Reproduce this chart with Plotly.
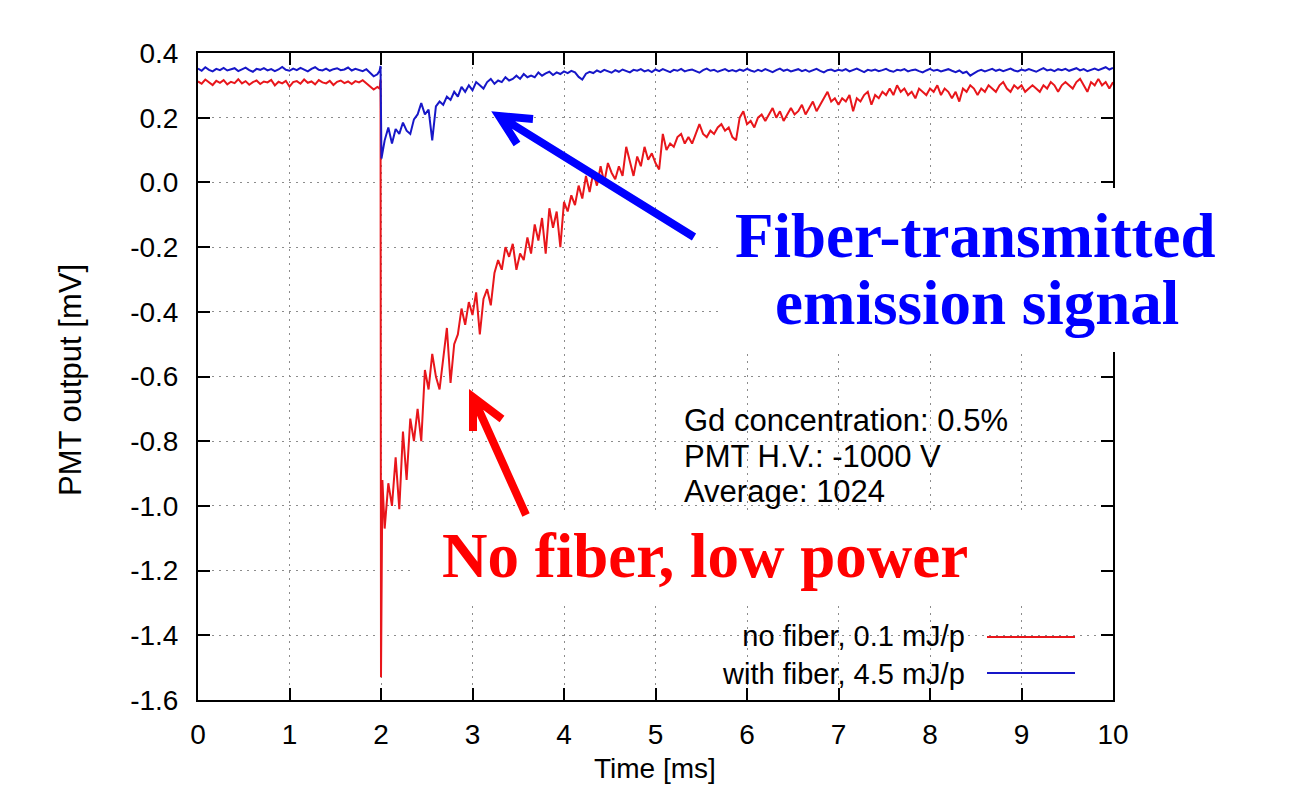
import plotly.graph_objects as go

# ---------------- data ----------------
x_tick_vals = [0, 1, 2, 3, 4, 5, 6, 7, 8, 9, 10]
x_tick_text = ["0", "1", "2", "3", "4", "5", "6", "7", "8", "9", "10"]
y_tick_vals = [0.4, 0.2, 0.0, -0.2, -0.4, -0.6, -0.8, -1.0, -1.2, -1.4, -1.6]
y_tick_text = ["0.4", "0.2", "0.0", "-0.2", "-0.4", "-0.6", "-0.8", "-1.0", "-1.2", "-1.4", "-1.6"]

series_names = ["no fiber, 0.1 mJ/p", "with fiber, 4.5 mJ/p"]

STEP = 0.04  # sampling interval of the time grid [ms]

# no fiber, 0.1 mJ/p  (before the laser pulse, t = 0 ... 1.96 ms)
red_base = [0.312, 0.305, 0.318, 0.309, 0.301, 0.314, 0.308, 0.316, 0.303, 0.311,
            0.307, 0.319, 0.306, 0.313, 0.302, 0.310, 0.315, 0.304, 0.312, 0.309,
            0.317, 0.300, 0.311, 0.306, 0.314, 0.296, 0.310, 0.313, 0.305, 0.318,
            0.308, 0.312, 0.303, 0.316, 0.309, 0.306, 0.314, 0.301, 0.311, 0.315,
            0.307, 0.312, 0.304, 0.313, 0.309, 0.316, 0.306, 0.298, 0.287, 0.295]
red_spike_t = [1.985, 1.995, 2.0, 2.015]
red_spike = [0.290, 0.318, -1.53, -0.92]
# t = 2.04 ... 10.00 ms
red_decay = [-1.07, -0.93, -1.00, -0.85, -1.01, -0.77, -0.92, -0.73, -0.80, -0.70,
             -0.80, -0.58, -0.64, -0.53, -0.60, -0.64, -0.55, -0.45, -0.62, -0.50,
             -0.47, -0.39, -0.44, -0.37, -0.41, -0.34, -0.47, -0.36, -0.33, -0.38,
             -0.28, -0.24, -0.27, -0.20, -0.23, -0.19, -0.27, -0.22, -0.24, -0.17,
             -0.22, -0.13, -0.18, -0.11, -0.22, -0.08, -0.14, -0.09, -0.20, -0.06,
             -0.09, -0.04, -0.07, -0.01, -0.05, 0.02, -0.03, 0.03, -0.01, 0.05,
             0.00, 0.06, 0.03, 0.01, 0.05, 0.02, 0.11, 0.06, 0.02, 0.08,
             0.05, 0.11, 0.07, 0.09, 0.06, 0.04, 0.15, 0.10, 0.12, 0.11,
             0.14, 0.15, 0.12, 0.14, 0.12, 0.15, 0.18, 0.15, 0.14, 0.16,
             0.15, 0.17, 0.18, 0.16, 0.17, 0.14, 0.13, 0.20, 0.22, 0.18,
             0.19, 0.17, 0.20, 0.21, 0.19, 0.21, 0.23, 0.20, 0.22, 0.19,
             0.21, 0.23, 0.21, 0.22, 0.24, 0.21, 0.23, 0.25, 0.22, 0.24,
             0.26, 0.28, 0.25, 0.26, 0.24, 0.26, 0.25, 0.27, 0.22, 0.26,
             0.25, 0.27, 0.28, 0.24, 0.27, 0.26, 0.28, 0.27, 0.29, 0.27,
             0.30, 0.28, 0.29, 0.27, 0.28, 0.26, 0.29, 0.28, 0.27, 0.29,
             0.28, 0.30, 0.27, 0.29, 0.28, 0.26, 0.28, 0.25, 0.29, 0.28,
             0.30, 0.29, 0.27, 0.29, 0.28, 0.30, 0.29, 0.28, 0.30, 0.31,
             0.29, 0.28, 0.30, 0.29, 0.30, 0.28, 0.29, 0.30, 0.29, 0.28,
             0.30, 0.29, 0.31, 0.30, 0.28, 0.30, 0.31, 0.30, 0.29, 0.31,
             0.32, 0.30, 0.28, 0.31, 0.30, 0.32, 0.30, 0.31, 0.29, 0.31]

# with fiber, 4.5 mJ/p
blue_base = [0.352, 0.345, 0.356, 0.348, 0.343, 0.351, 0.347, 0.354, 0.346, 0.349,
             0.353, 0.344, 0.350, 0.355, 0.347, 0.342, 0.351, 0.348, 0.353, 0.346,
             0.350, 0.344, 0.349, 0.357, 0.348, 0.345, 0.352, 0.347, 0.354, 0.349,
             0.343, 0.351, 0.356, 0.348, 0.346, 0.352, 0.345, 0.350, 0.353, 0.347,
             0.349, 0.355, 0.346, 0.351, 0.348, 0.344, 0.350, 0.338, 0.328, 0.334]
blue_spike_t = [1.985, 1.995, 2.005]
blue_spike = [0.345, 0.360, 0.074]
blue_decay = [0.13, 0.17, 0.12, 0.165, 0.15, 0.185, 0.16, 0.15, 0.195, 0.21,
              0.245, 0.21, 0.225, 0.13, 0.235, 0.25, 0.24, 0.265, 0.255, 0.28,
              0.265, 0.295, 0.28, 0.30, 0.285, 0.31, 0.30, 0.29, 0.31, 0.32,
              0.305, 0.315, 0.31, 0.325, 0.315, 0.32, 0.33, 0.32, 0.335, 0.325,
              0.33, 0.325, 0.34, 0.33, 0.337, 0.342, 0.332, 0.34, 0.335, 0.343,
              0.338, 0.345, 0.340, 0.326, 0.318, 0.336, 0.342, 0.338, 0.346, 0.341,
              0.348, 0.343, 0.339, 0.347, 0.342, 0.349, 0.344, 0.340, 0.348, 0.345,
              0.350, 0.343, 0.347, 0.341, 0.349,
              0.344, 0.350, 0.346, 0.341, 0.348, 0.345, 0.351, 0.343, 0.347, 0.349,
              0.344, 0.339, 0.347, 0.352, 0.345, 0.348, 0.342, 0.346, 0.350, 0.344,
              0.347, 0.343, 0.349, 0.345, 0.351, 0.346, 0.342, 0.348, 0.344, 0.350,
              0.346, 0.341, 0.347, 0.352, 0.345, 0.349, 0.343, 0.346, 0.350, 0.344,
              0.348, 0.342, 0.346, 0.351, 0.345, 0.340, 0.347, 0.349, 0.344, 0.348,
              0.345, 0.350, 0.343, 0.347, 0.352, 0.346, 0.341, 0.348, 0.345, 0.349,
              0.344, 0.347, 0.351, 0.345, 0.342, 0.348, 0.346, 0.350, 0.343, 0.347,
              0.349, 0.344, 0.340, 0.346, 0.351, 0.345, 0.348, 0.343, 0.347, 0.350,
              0.345, 0.341, 0.346, 0.338, 0.342, 0.330, 0.337, 0.344, 0.348, 0.343,
              0.347, 0.351, 0.345, 0.349, 0.344, 0.348, 0.352, 0.346, 0.343, 0.349,
              0.345, 0.350, 0.347, 0.342, 0.348, 0.353, 0.346, 0.349, 0.344, 0.350,
              0.347, 0.351, 0.345, 0.349, 0.353, 0.346, 0.350, 0.344, 0.348, 0.352,
              0.347, 0.351, 0.356, 0.349, 0.354]

info_lines = ["Gd concentration: 0.5%", "PMT H.V.: -1000 V", "Average: 1024"]


def time_grid(start, n):
    return [round(start + STEP * i, 3) for i in range(n)]


red_t = time_grid(0.0, len(red_base)) + red_spike_t + time_grid(2.04, len(red_decay))
red_v = red_base + red_spike + red_decay
blue_t = time_grid(0.0, len(blue_base)) + blue_spike_t + time_grid(2.04, len(blue_decay))
blue_v = blue_base + blue_spike + blue_decay

# ---------------- layout helpers ----------------
W, H = 1297, 786
L, R, T, B = 198, 184, 53, 86
PW, PH = W - L - R, H - T - B


def px(x):
    return (x - L) / PW


def py(y):
    return (H - B - y) / PH


RED = "#e8161b"
BLUE = "#1717c8"
SANS = "Liberation Sans, Arial, sans-serif"
SERIF = "Liberation Serif, Times New Roman, serif"
FS_TICK = 28
FS = 31

fig = go.Figure()
fig.add_trace(go.Scatter(x=red_t, y=red_v, mode="lines", name=series_names[0],
                         line=dict(color=RED, width=2), showlegend=False))
fig.add_trace(go.Scatter(x=blue_t, y=blue_v, mode="lines", name=series_names[1],
                         line=dict(color=BLUE, width=2), showlegend=False))

axis_common = dict(
    showline=True, linewidth=2, linecolor="black", mirror="ticks",
    ticks="inside", ticklen=12, tickwidth=2, tickcolor="black",
    showgrid=True, gridcolor="#8c8c8c", gridwidth=1, griddash="2px,5px",
    zeroline=False, tickfont=dict(family=SANS, size=FS_TICK, color="black"),
)
fig.update_xaxes(range=[0, 10], tickvals=x_tick_vals, ticktext=x_tick_text,
                 ticklabelstandoff=8, **axis_common)
fig.update_yaxes(range=[-1.6, 0.4], tickvals=y_tick_vals, ticktext=y_tick_text,
                 ticklabelstandoff=12, **axis_common)

shapes = []
# white text boxes pasted over the plot
shapes.append(dict(type="rect", xref="paper", yref="paper", layer="above",
                   x0=px(718), x1=px(1245), y0=py(352), y1=py(188),
                   fillcolor="white", line=dict(width=0)))
shapes.append(dict(type="rect", xref="paper", yref="paper", layer="above",
                   x0=px(415), x1=px(1099), y0=py(601), y1=py(512),
                   fillcolor="white", line=dict(width=0)))


def arrow_path(tip, tail, arm1, arm2):
    f = lambda p: f"{px(p[0])},{py(p[1])}"
    return f"M{f(tail)} L{f(tip)} M{f(arm1)} L{f(tip)} L{f(arm2)}"


shapes.append(dict(type="path", xref="paper", yref="paper", layer="above",
                   path=arrow_path((499, 116), (694, 237), (533, 119), (517, 144)),
                   line=dict(color="#0000ff", width=8)))
shapes.append(dict(type="path", xref="paper", yref="paper", layer="above",
                   path=arrow_path((473, 397), (526, 515), (502, 419), (473, 431)),
                   line=dict(color="#ff0000", width=8)))
# legend samples
shapes.append(dict(type="line", xref="paper", yref="paper", layer="above",
                   x0=px(987), x1=px(1075), y0=py(637), y1=py(637),
                   line=dict(color=RED, width=2)))
shapes.append(dict(type="line", xref="paper", yref="paper", layer="above",
                   x0=px(987), x1=px(1075), y0=py(673), y1=py(673),
                   line=dict(color=BLUE, width=2)))

ann = []


def text(t, x, y, size=FS, color="black", xanchor="center", yanchor="middle",
         family=SANS, angle=0, align="center"):
    ann.append(dict(text=t, x=px(x), y=py(y), xref="paper", yref="paper",
                    showarrow=False, xanchor=xanchor, yanchor=yanchor, align=align,
                    textangle=angle, font=dict(family=family, size=size, color=color)))


text("Time [ms]", 655, 786, size=FS_TICK, yanchor="bottom")
text("PMT output [mV]", 70, 380, angle=-90)
for i, line in enumerate(info_lines):
    text(line, 682, 420 + 36 * i, xanchor="left")
text("<br>".join(series_names), 967, 655, size=29, xanchor="right", align="right")
text("<b>Fiber-transmitted</b>", 975, 236, size=63, color="#0000ff", family=SERIF)
text("<b>emission signal</b>", 977, 303, size=63, color="#0000ff", family=SERIF)
text("<b>No fiber, low power</b>", 705, 556, size=63, color="#ff0000", family=SERIF)

fig.update_layout(
    width=W, height=H, margin=dict(l=L, r=R, t=T, b=B, pad=0),
    paper_bgcolor="white", plot_bgcolor="white",
    shapes=shapes, annotations=ann, showlegend=False,
)

fig.write_html("out.html")
